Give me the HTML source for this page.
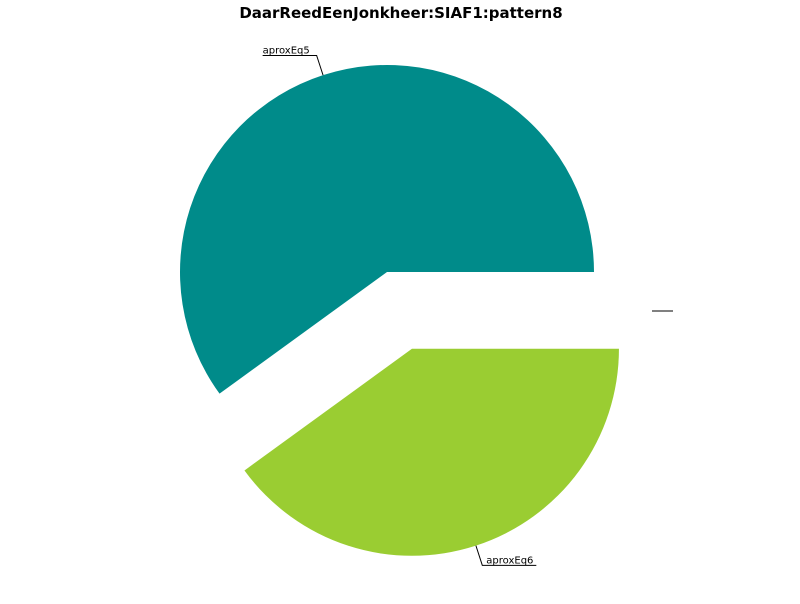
<!DOCTYPE html>
<html><head><meta charset="utf-8"><style>
body{margin:0;background:#fff;font-family:"DejaVu Sans","Liberation Sans",sans-serif}
</style></head><body>
<svg id="chart" width="800" height="600" xmlns="http://www.w3.org/2000/svg" font-family="DejaVu Sans, Liberation Sans, sans-serif">
<rect width="800" height="600" fill="#fff"/>
<text x="401" y="18" text-anchor="middle" font-weight="bold" font-size="15">DaarReedEenJonkheer:SIAF1:pattern8</text>
<g id="slices"></g>
<line x1="652" y1="311" x2="673" y2="311" stroke="#000" stroke-width="1"/>
</svg>
<script>
const labels = ["aproxEq5", "aproxEq6"];
const values = [60, 40];
const explode = [0, 0.39];
const colors = ["#008B8A", "#9ACD32"];
const cx = 387, cy = 272, R = 207;
const svg = document.getElementById('slices');
const NS = "http://www.w3.org/2000/svg";
const total = values.reduce((a, b) => a + b, 0);
let start = 0;
function pt(x, y, r, deg) { const a = deg * Math.PI / 180; return [x + r * Math.cos(a), y - r * Math.sin(a)]; }
values.forEach((v, i) => {
  const sweep = v / total * 360, end = start + sweep, mid = start + sweep / 2;
  const [ox, oy] = pt(cx, cy, explode[i] * R, mid);
  const [x1, y1] = pt(ox, oy, R, start), [x2, y2] = pt(ox, oy, R, end);
  const p = document.createElementNS(NS, 'path');
  p.setAttribute('d', `M${ox},${oy} L${x1},${y1} A${R},${R} 0 ${sweep > 180 ? 1 : 0} 0 ${x2},${y2} Z`);
  p.setAttribute('fill', colors[i]);
  
  
  svg.appendChild(p);
  const [ax, ay] = pt(ox, oy, R, mid), [lx, ly] = pt(ox, oy, R * 1.1, mid);
  const right = Math.cos(mid * Math.PI / 180) >= 0;
  const tw = 50;
  const ex = right ? lx + 4 : lx - 4;
  const ln = document.createElementNS(NS, 'polyline');
  ln.setAttribute('points', `${ax},${ay} ${lx},${ly} ${right ? ex + tw : ex - tw},${ly}`);
  ln.setAttribute('fill', 'none'); ln.setAttribute('stroke', '#000'); ln.setAttribute('stroke-width', '1');
  
  
  svg.appendChild(ln);
  const t = document.createElementNS(NS, 'text');
  t.setAttribute('x', right ? ex : ex - tw); t.setAttribute('y', ly - 2);
  t.setAttribute('font-size', '10'); t.textContent = labels[i];
  
  
  svg.appendChild(t);
  start = end;
});
</script>
</body></html>
